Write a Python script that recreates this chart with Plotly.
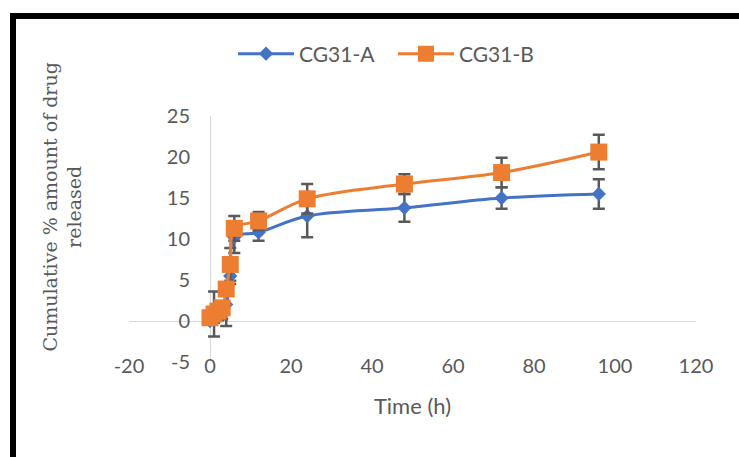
import plotly.graph_objects as go

time_h = [0, 1, 2, 3, 4, 5, 6, 12, 24, 48, 72, 96]
cg31_a = [0.0, 0.3, 0.6, 1.0, 2.0, 5.5, 10.2, 10.8, 12.8, 13.8, 15.0, 15.5]
cg31_a_err = [0.3, 0.5, 0.5, 0.8, 2.6, 1.0, 1.9, 1.0, 2.6, 1.7, 1.3, 1.8]
cg31_b = [0.4, 0.85, 1.2, 1.6, 3.9, 6.9, 11.3, 12.2, 14.9, 16.7, 18.1, 20.6]
cg31_b_err = [0.5, 2.75, 0.5, 0.6, 0.8, 2.0, 1.5, 1.1, 1.8, 1.2, 1.8, 2.1]

x_ticks = [-20, 0, 20, 40, 60, 80, 100, 120]
x_tick_labels = ["-20", "0", "20", "40", "60", "80", "100", "120"]
y_ticks = [-5, 0, 5, 10, 15, 20, 25]
y_tick_labels = ["-5", "0", "5", "10", "15", "20", "25"]

BLUE = "#4472C4"
ORANGE = "#ED7D31"
GRAY = "#595959"
FONT = "Lato"

W, H = 739, 457
ML, MR, MT, MB = 129, 43, 116, 95
PW, PH = W - ML - MR, H - MT - MB


def px_x(p):
    return (p - ML) / PW


def px_y(p):
    return (H - MB - p) / PH


fig = go.Figure()
fig.add_trace(go.Scatter(
    x=time_h, y=cg31_a, name="CG31-A", mode="lines+markers",
    line=dict(color=BLUE, width=3, shape="spline", smoothing=1),
    marker=dict(symbol="diamond", size=11, color=BLUE),
    error_y=dict(type="data", array=cg31_a_err, color=GRAY, thickness=2.5, width=6),
))
fig.add_trace(go.Scatter(
    x=time_h, y=cg31_b, name="CG31-B", mode="lines+markers",
    line=dict(color=ORANGE, width=3, shape="spline", smoothing=1),
    marker=dict(symbol="square", size=17, color=ORANGE),
    error_y=dict(type="data", array=cg31_b_err, color=GRAY, thickness=2.5, width=6),
))

fig.update_layout(
    width=W, height=H,
    margin=dict(l=ML, r=MR, t=MT, b=MB, pad=0),
    paper_bgcolor="white", plot_bgcolor="white",
    font=dict(family=FONT, size=20, color=GRAY),
    showlegend=True,
    legend=dict(orientation="h", x=px_x(233), xanchor="left", y=px_y(54), yanchor="middle",
                font=dict(family=FONT, size=21, color=GRAY), itemwidth=56,
                entrywidth=89, entrywidthmode="pixels",
                bgcolor="rgba(0,0,0,0)"),
    xaxis=dict(range=[-20, 120], tickvals=x_ticks, ticktext=x_tick_labels,
               showgrid=False, showline=False,
               zeroline=True, zerolinecolor="#D9D9D9", zerolinewidth=1,
               ticks="", ticklabelstandoff=-10,
               tickfont=dict(family=FONT, size=20, color=GRAY),
               title=dict(text="Time (h)", standoff=22, font=dict(family=FONT, size=22, color=GRAY))),
    yaxis=dict(range=[-5, 25], tickvals=y_ticks, ticktext=y_tick_labels,
               showgrid=False, showline=False,
               anchor="free", position=20 / 140,
               zeroline=True, zerolinecolor="#D9D9D9", zerolinewidth=1,
               ticks="", ticklabelstandoff=20,
               tickfont=dict(family=FONT, size=20, color=GRAY)),
    annotations=[dict(
        text="Cumulative % amount of drug<br>released",
        xref="paper", yref="paper", x=px_x(61.5), y=px_y(207),
        xanchor="center", yanchor="middle", textangle=-90, showarrow=False,
        font=dict(family="DejaVu Serif", size=19, color=GRAY),
    )],
    shapes=[dict(type="rect", xref="paper", yref="paper",
                 x0=px_x(13), y0=px_y(16), x1=px_x(790), y1=px_y(520),
                 line=dict(color="black", width=6), fillcolor="rgba(0,0,0,0)", layer="above")],
)

fig.write_html("out.html", config={"displayModeBar": False},
               post_script="document.body.style.margin='0';document.body.style.overflow='hidden';")
